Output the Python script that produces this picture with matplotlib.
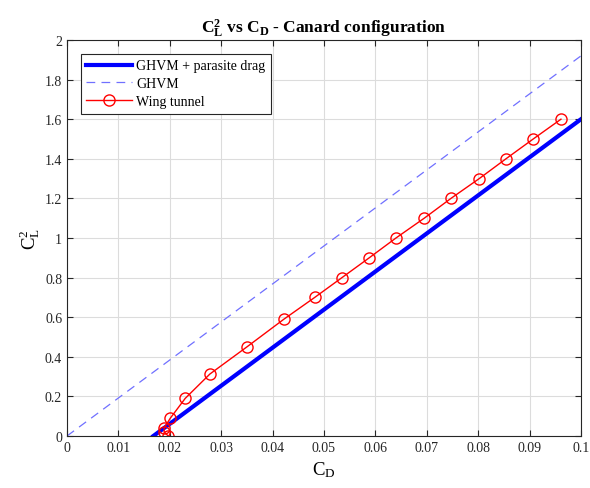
import numpy as np
import matplotlib.pyplot as plt

plt.rcParams['font.family'] = ['Liberation Serif', 'DejaVu Serif']
plt.rcParams['mathtext.fontset'] = 'custom'
plt.rcParams['mathtext.rm'] = 'Liberation Serif'
plt.rcParams['mathtext.it'] = 'Liberation Serif'
plt.rcParams['mathtext.bf'] = 'Liberation Serif:bold'

# GHVM + parasite drag (straight line endpoints)
par_cd = [0.0168, 0.1]
par_cl2 = [0.0, 1.60]

# GHVM (no parasite drag)
ghvm_cd = [0.0, 0.1]
ghvm_cl2 = [0.0, 1.92]

# wing tunnel measurements
wt_cd = [0.0197, 0.0189, 0.0189, 0.0201, 0.0230, 0.0278, 0.0350, 0.0422, 0.0482,
         0.0535, 0.0588, 0.0640, 0.0695, 0.0747, 0.0802, 0.0854, 0.0907, 0.0961]
wt_cl2 = [0.0, 0.02, 0.04, 0.09, 0.19, 0.313, 0.45, 0.59, 0.70,
          0.80, 0.90, 1.0, 1.1, 1.2, 1.3, 1.4, 1.5, 1.6]

fig = plt.figure(figsize=(5.9, 4.89), dpi=100)
ax = fig.add_axes([67 / 590, 52 / 489, 514 / 590, 396 / 489])

ax.plot(par_cd, par_cl2, color='#0000ff', lw=3, label='GHVM + parasite drag')
ax.plot(ghvm_cd, ghvm_cl2, color='#7070ff', lw=0.9, dashes=(7, 5), label='GHVM')
ax.plot(wt_cd, wt_cl2, color='#ff0000', lw=1.0, marker='o', ms=8,
        mfc='none', mec='#ff0000', mew=1.0, label='Wing tunnel')

ax.set_xlim(0, 0.1)
ax.set_ylim(0, 2)
ax.set_xticks(np.arange(0, 0.101, 0.01))
ax.set_yticks(np.arange(0, 2.01, 0.2))
ax.set_xticklabels(['0', '0.01', '0.02', '0.03', '0.04', '0.05', '0.06', '0.07', '0.08', '0.09', '0.1'])
ax.set_yticklabels(['0', '0.2', '0.4', '0.6', '0.8', '1', '1.2', '1.4', '1.6', '1.8', '2'])
ax.tick_params(direction='in', top=True, right=True, labelsize=10, length=4, width=0.8, colors='#262626')
ax.grid(True, color='#dcdcdc', lw=0.8)
ax.set_axisbelow(True)
for s in ax.spines.values():
    s.set_color('#262626')
    s.set_linewidth(0.8)

ax.set_xlabel(r'$\mathrm{C_D}$', fontsize=13.5, labelpad=4)
ax.set_ylabel(r'$\mathrm{C_L^2}$', fontsize=13.5, labelpad=2)
ax.set_title(r'$\mathbf{C_L^2}$ vs $\mathbf{C_D}$ - Canard configuration', fontsize=12.5,
             fontweight='bold', pad=5)

leg = ax.legend(loc='upper left', bbox_to_anchor=(0.027, 0.965), fontsize=10,
                fancybox=False, edgecolor='#262626', framealpha=1,
                handlelength=3.3, borderpad=0.4, labelspacing=0.35, handletextpad=0.3,
                borderaxespad=0)
leg.get_frame().set_linewidth(0.8)

fig.savefig('out.png', dpi=100)
